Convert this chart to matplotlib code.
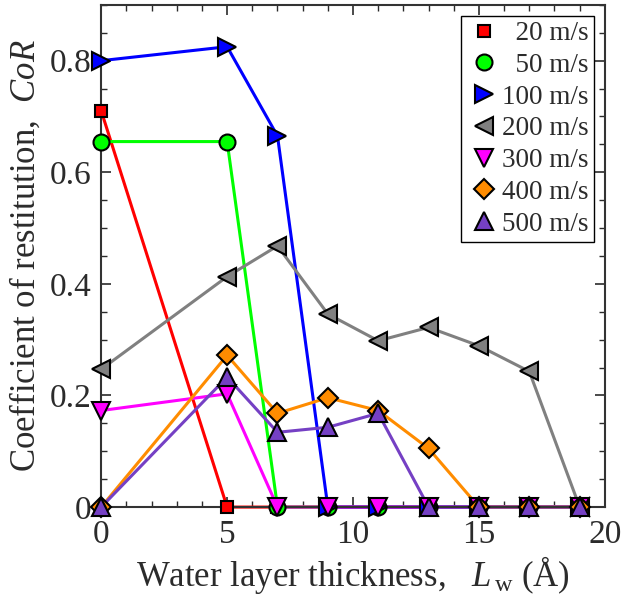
import matplotlib
matplotlib.use("Agg")
import matplotlib.pyplot as plt
from matplotlib.ticker import MultipleLocator, FixedLocator, FuncFormatter

plt.rcParams['font.family'] = ['Liberation Serif', 'DejaVu Serif']
plt.rcParams['mathtext.fontset'] = 'custom'
plt.rcParams['mathtext.rm'] = 'Liberation Serif'
plt.rcParams['mathtext.it'] = 'Liberation Serif:italic'
tc = '#2b2b2b'
plt.rcParams['text.color'] = tc
plt.rcParams['axes.labelcolor'] = tc
plt.rcParams['xtick.color'] = tc
plt.rcParams['ytick.color'] = tc

x = [0, 5, 7, 9, 11, 13, 15, 17, 19]
v20 = [0.71, 0, 0, 0, 0, 0, 0, 0, 0]
v50 = [0.655, 0.655, 0, 0, 0, 0, 0, 0, 0]
v100 = [0.80, 0.825, 0.665, 0, 0, 0, 0, 0, 0]
v200 = [0.247, 0.413, 0.468, 0.346, 0.298, 0.322, 0.289, 0.243, 0]
v300 = [0.173, 0.203, 0, 0, 0, 0, 0, 0, 0]
v400 = [0, 0.272, 0.168, 0.196, 0.173, 0.105, 0, 0, 0]
v500 = [0, 0.233, 0.134, 0.143, 0.168, 0, 0, 0, 0]

labels = ['  20 m/s', '  50 m/s', '100 m/s', '200 m/s', '300 m/s', '400 m/s', '500 m/s']
series = [v20, v50, v100, v200, v300, v400, v500]
colors = ['#ff0000', '#00ff00', '#0000ff', '#808080', '#ff00ff', '#ff8c00', '#7540c4']
markers = ['s', 'o', '>', '<', 'v', 'D', '^']
msizes = [8.5, 11.5, 13, 13, 13, 10, 13]

fig = plt.figure(figsize=(6.21, 6.08), dpi=100)
ax = fig.add_axes([0.163, 0.166, 0.811, 0.826])

handles = []
for ys, c, m, ms, lab in zip(series, colors, markers, msizes, labels):
    ax.plot(x, ys, color=c, lw=2.2, zorder=2, clip_on=False)
    h, = ax.plot(x, ys, linestyle='none', marker=m, markersize=ms, markerfacecolor=c,
                 markeredgecolor='black', markeredgewidth=1.5, zorder=3, clip_on=False, label=lab)
    handles.append(h)

ax.set_xlim(0, 20)
ax.set_ylim(0, 0.9)
ax.xaxis.set_major_locator(MultipleLocator(5))
ax.xaxis.set_minor_locator(MultipleLocator(1))
ax.yaxis.set_major_locator(FixedLocator([0, 0.2, 0.4, 0.6, 0.8]))
ax.yaxis.set_minor_locator(MultipleLocator(0.05))
ax.yaxis.set_major_formatter(FuncFormatter(lambda v, p: '0' if abs(v) < 1e-9 else f'{v:.1f}'))
ax.tick_params(which='both', direction='in', top=True, right=True, labelsize=24)
ax.tick_params(which='major', length=7, width=1.2)
ax.tick_params(axis='x', which='major', pad=9)
ax.tick_params(axis='y', which='major', pad=7)
ax.tick_params(which='minor', length=4, width=1.0)
for s in ax.spines.values():
    s.set_linewidth(1.5)
    s.set_color('#333333')

ax.set_xlabel('Water layer thickness,   $L_{\\,\\mathrm{w}}$ (Å)', fontsize=25, labelpad=3)
ax.set_ylabel('Coefficient of restitution,  $CoR$', fontsize=25, labelpad=5)

leg = ax.legend(handles=handles, loc='upper right', fontsize=19.5, frameon=True, fancybox=False,
                edgecolor='black', framealpha=1, handletextpad=0.0, handlelength=1.3,
                labelspacing=0.25, borderpad=0.2, borderaxespad=0.4)
leg.get_frame().set_linewidth(1.0)

fig.savefig('out.png', dpi=100)
